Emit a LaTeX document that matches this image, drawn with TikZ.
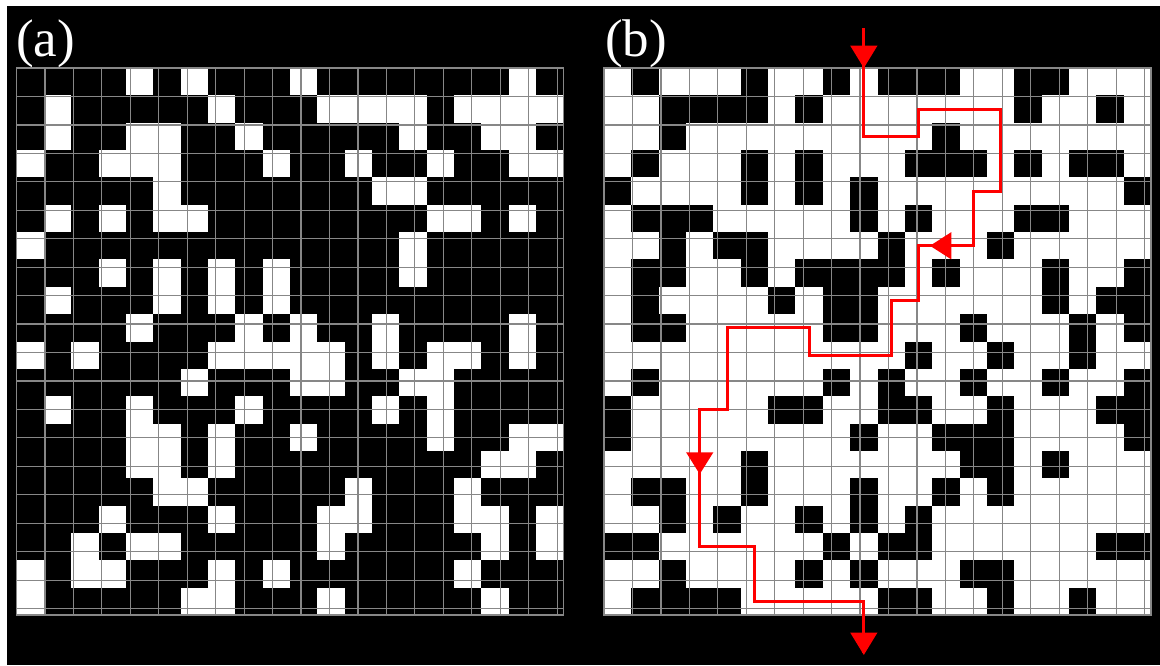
\documentclass[tikz,border=0pt]{standalone}
\usepackage{fontspec}
\newfontfamily\labelfont{Liberation Serif}
\definecolor{gridgray}{RGB}{135,135,135}
\definecolor{pathred}{RGB}{255,0,0}
\tikzset{
  gridline/.style={draw=gridgray, line width=1.2pt},
  redpath/.style={draw=pathred, line width=3pt, line join=miter},
  redtip/.style={fill=pathred, draw=none},
  panellabel/.style={text=white, inner sep=0pt, anchor=base west, font=\labelfont\fontsize{53}{53}\selectfont}
}
\begin{document}
\begin{tikzpicture}[x=1pt,y=-1pt]
\useasboundingbox (0,0) rectangle (1160,665);
\fill[white] (0,0) rectangle (1160,665);
\fill[black] (7,6) rectangle (1160,665);

% ---------- panel (a): black background, white cells ----------
\begin{scope}[shift={(16.5,68)}, x=27.35pt, y=-27.35pt]
\fill[black] (0,0) rectangle (20,20);
\foreach \row [count=\r from 0] in {
{0,0,0,0,1,0,1,0,0,0,1,0,0,0,0,0,0,0,1,0},
{0,1,0,0,0,0,0,1,0,0,0,1,1,1,1,0,1,1,1,1},
{0,1,0,0,1,1,0,0,1,0,0,0,0,0,1,0,0,1,1,0},
{1,0,0,1,1,1,0,0,0,1,0,0,1,0,0,1,0,0,1,1},
{0,0,0,0,0,1,0,0,0,0,0,0,0,1,1,0,0,0,0,0},
{0,1,0,1,0,1,1,0,0,0,0,0,0,0,0,1,1,0,1,0},
{1,0,0,0,0,0,0,0,0,0,0,0,0,0,1,0,0,0,0,0},
{0,0,0,1,0,1,0,1,0,1,0,0,0,0,1,0,0,0,0,0},
{0,1,0,0,0,1,0,1,0,1,0,0,0,0,0,0,0,0,0,0},
{0,0,0,0,1,0,0,0,1,0,1,0,0,1,0,0,0,0,1,0},
{1,0,1,0,0,0,0,1,1,1,1,1,0,1,0,1,1,0,1,0},
{0,0,0,0,0,0,1,0,0,0,1,1,0,0,1,1,0,0,0,0},
{0,1,0,0,1,0,0,0,1,0,0,0,0,1,0,1,0,0,0,0},
{0,0,0,0,1,1,0,1,0,0,1,0,0,0,0,1,0,0,1,1},
{0,0,0,0,1,1,0,1,0,0,0,0,0,0,0,0,0,1,1,0},
{0,0,0,0,0,1,1,0,0,0,0,0,1,0,0,0,1,0,0,0},
{0,0,0,1,0,0,0,1,0,0,0,1,1,0,0,0,1,1,0,1},
{0,0,1,0,1,1,0,0,0,0,0,1,0,0,0,0,0,1,0,1},
{1,0,1,1,0,0,0,1,0,1,0,0,0,0,0,0,1,0,0,0},
{1,0,0,0,0,0,1,1,0,0,0,1,0,0,0,0,0,1,0,0}} {
  \foreach \v [count=\c from 0] in \row {
    \ifnum\v=1 \fill[white] (\c,\r) rectangle ++(1,1); \fi
  }
}
\draw[gridline] (0,0) grid (20,20);
\draw[gridline] (0,0) rectangle (20,20);
\end{scope}

% ---------- panel (b): white background, black cells ----------
\begin{scope}[shift={(604,68)}, x=27.35pt, y=-27.35pt]
\fill[white] (0,0) rectangle (20,20);
\foreach \row [count=\r from 0] in {
{0,1,0,0,0,1,0,0,1,0,1,1,1,0,0,1,1,0,0,0},
{0,0,1,1,1,1,0,1,0,0,0,0,0,0,0,1,0,0,1,0},
{0,0,1,0,0,0,0,0,0,0,0,0,1,0,0,0,0,0,0,0},
{0,1,0,0,0,1,0,1,0,0,0,1,1,1,0,1,0,1,1,0},
{1,0,0,0,0,1,0,1,0,1,0,0,0,0,0,0,0,0,0,1},
{0,1,1,1,0,0,0,0,0,1,0,1,0,0,0,1,1,0,0,0},
{0,0,1,0,1,1,0,0,0,0,1,0,0,0,1,0,0,0,0,0},
{0,1,1,0,0,1,0,1,1,1,1,0,1,0,0,0,1,0,0,1},
{0,1,0,0,0,0,1,0,1,1,0,0,0,0,0,0,1,0,1,1},
{0,1,1,0,0,0,0,0,1,1,0,0,0,1,0,0,0,1,0,1},
{0,0,0,0,0,0,0,0,0,0,0,1,0,0,1,0,0,1,0,0},
{0,1,0,0,0,0,0,0,1,0,1,0,0,1,0,0,1,0,0,1},
{1,0,0,0,0,0,1,1,0,0,1,1,0,0,1,0,0,0,1,1},
{1,0,0,0,0,0,0,0,0,1,0,0,1,1,1,0,0,0,0,1},
{0,0,0,0,0,1,0,0,0,0,0,0,0,1,1,0,1,0,0,0},
{0,1,1,0,0,1,0,0,0,1,0,0,1,0,1,0,0,0,0,0},
{0,0,1,0,1,0,0,1,0,1,0,1,0,0,0,0,0,0,0,0},
{1,1,0,0,0,0,0,0,1,0,1,1,0,0,0,0,0,0,1,1},
{0,0,1,0,0,0,0,1,0,1,0,0,0,1,1,0,0,0,0,0},
{0,1,1,1,1,0,0,0,0,0,1,1,0,0,1,0,0,1,0,0}} {
  \foreach \v [count=\c from 0] in \row {
    \ifnum\v=1 \fill[black] (\c,\r) rectangle ++(1,1); \fi
  }
}
\draw[gridline] (0,0) grid (20,20);
\draw[gridline] (0,0) rectangle (20,20);

% red path through cell centres
\draw[redpath] (9.5,-1.46) -- (9.5,2.5) -- (11.5,2.5) -- (11.5,1.5) -- (14.5,1.5)
  -- (14.5,4.5) -- (13.5,4.5) -- (13.5,6.5) -- (11.5,6.5) -- (11.5,8.5)
  -- (10.5,8.5) -- (10.5,10.5) -- (7.5,10.5) -- (7.5,9.5) -- (4.5,9.5)
  -- (4.5,12.5) -- (3.5,12.5) -- (3.5,17.5) -- (5.5,17.5) -- (5.5,19.5)
  -- (9.5,19.5) -- (9.5,21.4);
% arrowheads
\fill[redtip] (9.5,0) -- (9.0,-0.82) -- (10.0,-0.82) -- cycle;
\fill[redtip] (11.92,6.5) -- (12.7,6.0) -- (12.7,7.0) -- cycle;
\fill[redtip] (3.5,14.85) -- (3.0,14.05) -- (4.0,14.05) -- cycle;
\fill[redtip] (9.5,21.46) -- (9.0,20.64) -- (10.0,20.64) -- cycle;
\end{scope}

\node[panellabel] (labela) at (16,56) {(a)};
\node[panellabel] (labelb) at (605,56) {(b)};
\end{tikzpicture}
\end{document}
